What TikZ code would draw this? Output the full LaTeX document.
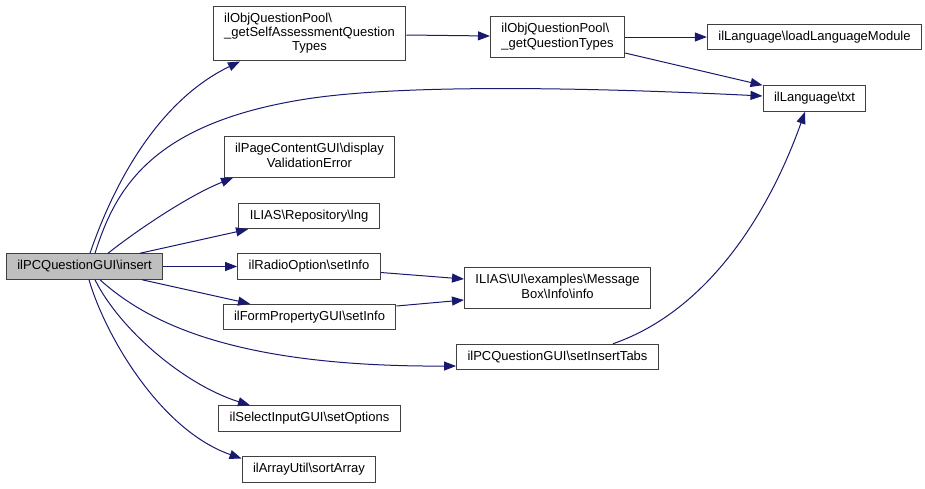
\documentclass[tikz,border=0pt]{standalone}
\usepackage{fontspec}
\setmainfont{Liberation Sans}
\usetikzlibrary{arrows.meta}
\definecolor{edgeblue}{HTML}{191970}
\definecolor{boxgray}{HTML}{404040}
\definecolor{curgray}{HTML}{BFBFBF}
\begin{document}
\begin{tikzpicture}[x=1pt,y=-1pt,
                    fn/.style={draw=boxgray,line width=1pt,inner xsep=11pt,inner ysep=6pt,
                               minimum height=25.5pt,font=\fontsize{13}{14.3}\selectfont},
                    current/.style={fn,fill=curgray},
                    call/.style={->,draw=edgeblue,line width=1pt},
                    >={Triangle[length=12pt,width=9pt]}]
\useasboundingbox (0,0) rectangle (925,488);
\node[current] (insert) at (84.5,266.5) {ilPCQuestionGUI\textbackslash insert};
\node[fn] (getself) at (309.5,33.5) {\begin{tabular}{@{}l@{}}ilObjQuestionPool\textbackslash\\ \_getSelfAssessmentQuestion\\ \multicolumn{1}{@{}c@{}}{Types}\end{tabular}};
\node[fn] (display) at (309.5,157) {\begin{tabular}{@{}c@{}}ilPageContentGUI\textbackslash display\\ ValidationError\end{tabular}};
\node[fn] (lng) at (309,216) {ILIAS\textbackslash Repository\textbackslash lng};
\node[fn] (radio) at (309,266.5) {ilRadioOption\textbackslash setInfo};
\node[fn] (formprop) at (309.5,317) {ilFormPropertyGUI\textbackslash setInfo};
\node[fn] (options) at (309.5,418.5) {ilSelectInputGUI\textbackslash setOptions};
\node[fn] (sortarr) at (309,469.5) {ilArrayUtil\textbackslash sortArray};
\node[fn] (getqt) at (557.5,37) {\begin{tabular}{@{}l@{}}ilObjQuestionPool\textbackslash\\ \_getQuestionTypes\end{tabular}};
\node[fn] (loadmod) at (814.5,37) {ilLanguage\textbackslash loadLanguageModule};
\node[fn] (txt) at (814.5,98.5) {ilLanguage\textbackslash txt};
\node[fn] (msgbox) at (557.5,288) {\begin{tabular}{@{}c@{}}ILIAS\textbackslash UI\textbackslash examples\textbackslash Message\\ Box\textbackslash Info\textbackslash info\end{tabular}};
\node[fn] (tabs) at (557.5,357) {ilPCQuestionGUI\textbackslash setInsertTabs};
\draw[call] ([xshift=5.5pt]insert.north) .. controls (115,180) and (160,100) .. ([xshift=-69.5pt]getself.south);
\draw[call] ([xshift=10.5pt]insert.north) .. controls (115,190) and (150,125) .. (300,100)
            .. controls (400,83) and (600,88) .. ([yshift=2.5pt]txt.west);
\draw[call] ([xshift=23.5pt]insert.north) .. controls (140,228) and (190,195) .. ([xshift=-76.5pt]display.south);
\draw[call] ([xshift=55.5pt]insert.north) -- ([xshift=-61pt]lng.south);
\draw[call] (insert.east) -- (radio.west);
\draw[call] ([xshift=57.5pt]insert.south) -- ([xshift=-59.5pt]formprop.north);
\draw[call] ([xshift=15.5pt]insert.south) .. controls (150,325) and (240,367) .. ([yshift=-9pt]tabs.west);
\draw[call] ([xshift=10.5pt]insert.south) .. controls (120,330) and (185,385) .. ([xshift=-59.5pt]options.north);
\draw[call] ([xshift=4.5pt]insert.south) .. controls (105,335) and (160,430) .. ([yshift=11pt]sortarr.west);
\draw[call] ([yshift=-1.5pt]getself.east) -- ([yshift=1pt]getqt.west);
\draw[call] (getqt.east) -- (loadmod.west);
\draw[call] ([yshift=-16pt]getqt.east) -- (txt.north west);
\draw[call] ([yshift=-6pt]radio.east) -- ([yshift=9pt]msgbox.west);
\draw[call] ([yshift=11pt]formprop.east) -- ([yshift=-12pt]msgbox.west);
\draw[call] ([xshift=55.5pt]tabs.north) .. controls (710,310) and (770,210) .. ([xshift=-9.5pt]txt.south);
\end{tikzpicture}
\end{document}
